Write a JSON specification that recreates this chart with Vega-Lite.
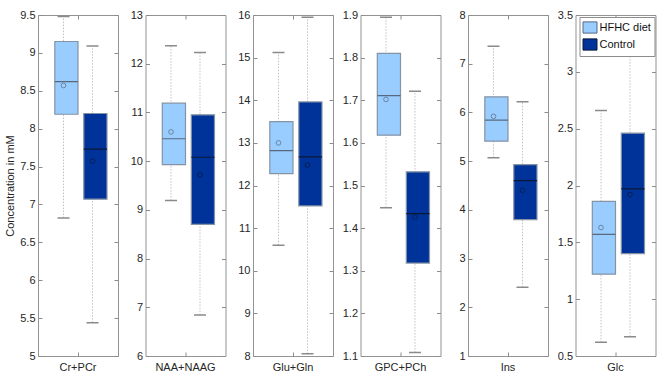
{
  "$schema": "https://vega.github.io/schema/vega-lite/v6.json",
  "padding": {"left": 4, "top": 8, "right": 5, "bottom": 5},
  "background": "white",
  "data": {"values": [
    {"metabolite": "Cr+PCr", "group": "HFHC diet", "low": 6.82, "q1": 8.19, "median": 8.62, "q3": 9.15, "high": 9.48, "mean": 8.57},
    {"metabolite": "Cr+PCr", "group": "Control", "low": 5.44, "q1": 7.07, "median": 7.73, "q3": 8.2, "high": 9.09, "mean": 7.57},
    {"metabolite": "NAA+NAAG", "group": "HFHC diet", "low": 9.19, "q1": 9.93, "median": 10.46, "q3": 11.19, "high": 12.37, "mean": 10.6},
    {"metabolite": "NAA+NAAG", "group": "Control", "low": 6.84, "q1": 8.7, "median": 10.08, "q3": 10.95, "high": 12.23, "mean": 9.72},
    {"metabolite": "Glu+Gln", "group": "HFHC diet", "low": 10.6, "q1": 12.28, "median": 12.82, "q3": 13.5, "high": 15.12, "mean": 13.0},
    {"metabolite": "Glu+Gln", "group": "Control", "low": 8.05, "q1": 11.52, "median": 12.67, "q3": 13.96, "high": 15.95, "mean": 12.48},
    {"metabolite": "GPC+PCh", "group": "HFHC diet", "low": 1.448, "q1": 1.618, "median": 1.711, "q3": 1.81, "high": 1.895, "mean": 1.702},
    {"metabolite": "GPC+PCh", "group": "Control", "low": 1.108, "q1": 1.318, "median": 1.434, "q3": 1.532, "high": 1.721, "mean": 1.426},
    {"metabolite": "Ins", "group": "HFHC diet", "low": 5.07, "q1": 5.41, "median": 5.84, "q3": 6.32, "high": 7.36, "mean": 5.92},
    {"metabolite": "Ins", "group": "Control", "low": 2.41, "q1": 3.8, "median": 4.6, "q3": 4.93, "high": 6.22, "mean": 4.4},
    {"metabolite": "Glc", "group": "HFHC diet", "low": 0.62, "q1": 1.22, "median": 1.57, "q3": 1.86, "high": 2.66, "mean": 1.63},
    {"metabolite": "Glc", "group": "Control", "low": 0.67, "q1": 1.4, "median": 1.97, "q3": 2.46, "high": 3.35, "mean": 1.92}
  ]},
  "spacing": 27.5,
  "bounds": "flush",
  "resolve": {
    "scale": {"x": "independent", "y": "independent", "xOffset": "independent", "fill": "independent", "color": "independent", "stroke": "independent"},
    "axis": {"x": "independent", "y": "independent"},
    "legend": {"fill": "independent", "color": "independent", "stroke": "independent"}
  },
  "config": {
    "font": "Liberation Sans",
    "view": {"stroke": "#939393", "strokeWidth": 1},
    "axis": {"domain": false, "grid": false, "tickColor": "#8c8c8c", "tickSize": -4, "tickWidth": 1, "labelFontSize": 11, "labelColor": "#262626", "titleFontSize": 11, "titleFontWeight": "normal", "titleColor": "#262626", "labelPadding": 7},
    "legend": {"labelFontSize": 11}
  },
  "hconcat": [
    {
      "width": 80, "height": 341,
      "transform": [{"filter": {"field": "metabolite", "equal": "Cr+PCr"}}],
      "encoding": {
        "x": {"field": "metabolite", "type": "nominal", "scale": {"paddingInner": 0, "paddingOuter": 0.19}, "axis": null},
        "xOffset": {"field": "group", "type": "nominal", "scale": {"domain": ["HFHC diet", "Control"], "paddingInner": 0, "paddingOuter": 0}}
      },
      "layer": [
        {"mark": {"type": "rule", "strokeDash": [1.5, 1.5], "color": "#c2c2c2", "strokeWidth": 1},
         "encoding": {
           "x": {"field": "metabolite", "type": "nominal", "scale": {"paddingInner": 0, "paddingOuter": 0.19}, "axis": {"orient": "bottom", "title": null, "labelAngle": 0, "labelPadding": 9}},
           "y": {"field": "low", "type": "quantitative", "scale": {"domain": [5, 9.5], "nice": false, "zero": false}, "axis": {"orient": "left", "values": [5, 5.5, 6, 6.5, 7, 7.5, 8, 8.5, 9, 9.5], "format": "~g", "title": "Concentration in mM"}},
           "y2": {"field": "high"}}},
        {"mark": {"type": "bar", "stroke": "#8593a5", "strokeWidth": 1.2, "width": {"band": 0.8}},
         "encoding": {
           "x": {"field": "metabolite", "type": "nominal", "scale": {"paddingInner": 0, "paddingOuter": 0.19}, "axis": {"orient": "top", "title": null, "labels": false}},
           "y": {"field": "q1", "type": "quantitative", "scale": {"domain": [5, 9.5], "nice": false, "zero": false}, "axis": {"orient": "right", "values": [5, 5.5, 6, 6.5, 7, 7.5, 8, 8.5, 9, 9.5], "labels": false, "title": null}},
           "y2": {"field": "q3"},
           "fill": {"field": "group", "type": "nominal", "scale": {"domain": ["HFHC diet", "Control"], "range": ["#99ccff", "#003399"]}, "legend": null}}},
        {"mark": {"type": "bar", "width": 12, "fillOpacity": 0, "stroke": "#8a8a8a", "strokeWidth": 1.5},
         "encoding": {"y": {"field": "low", "type": "quantitative", "scale": {"domain": [5, 9.5], "nice": false, "zero": false}, "axis": null}, "y2": {"field": "low"}}},
        {"mark": {"type": "bar", "width": 12, "fillOpacity": 0, "stroke": "#8a8a8a", "strokeWidth": 1.5},
         "encoding": {"y": {"field": "high", "type": "quantitative", "scale": {"domain": [5, 9.5], "nice": false, "zero": false}, "axis": null}, "y2": {"field": "high"}}},
        {"mark": {"type": "bar", "width": {"band": 0.8}, "fillOpacity": 0, "strokeWidth": 1.2},
         "encoding": {"y": {"field": "median", "type": "quantitative", "scale": {"domain": [5, 9.5], "nice": false, "zero": false}, "axis": null}, "y2": {"field": "median"},
           "stroke": {"field": "group", "type": "nominal", "scale": {"domain": ["HFHC diet", "Control"], "range": ["#58687e", "#0a1838"]}, "legend": null}}},
        {"mark": {"type": "point", "shape": "circle", "filled": false, "size": 22, "strokeWidth": 1},
         "encoding": {"y": {"field": "mean", "type": "quantitative", "scale": {"domain": [5, 9.5], "nice": false, "zero": false}, "axis": null},
           "color": {"field": "group", "type": "nominal", "scale": {"domain": ["HFHC diet", "Control"], "range": ["#58687e", "#0a1838"]}, "legend": null}}}
      ],
      "resolve": {"axis": {"x": "independent", "y": "independent"}}
    },
    {
      "width": 80, "height": 341,
      "transform": [{"filter": {"field": "metabolite", "equal": "NAA+NAAG"}}],
      "encoding": {
        "x": {"field": "metabolite", "type": "nominal", "scale": {"paddingInner": 0, "paddingOuter": 0.19}, "axis": null},
        "xOffset": {"field": "group", "type": "nominal", "scale": {"domain": ["HFHC diet", "Control"], "paddingInner": 0, "paddingOuter": 0}}
      },
      "layer": [
        {"mark": {"type": "rule", "strokeDash": [1.5, 1.5], "color": "#c2c2c2", "strokeWidth": 1},
         "encoding": {
           "x": {"field": "metabolite", "type": "nominal", "scale": {"paddingInner": 0, "paddingOuter": 0.19}, "axis": {"orient": "bottom", "title": null, "labelAngle": 0, "labelPadding": 9}},
           "y": {"field": "low", "type": "quantitative", "scale": {"domain": [6, 13], "nice": false, "zero": false}, "axis": {"orient": "left", "values": [6, 7, 8, 9, 10, 11, 12, 13], "format": "~g", "title": null}},
           "y2": {"field": "high"}}},
        {"mark": {"type": "bar", "stroke": "#8593a5", "strokeWidth": 1.2, "width": {"band": 0.8}},
         "encoding": {
           "x": {"field": "metabolite", "type": "nominal", "scale": {"paddingInner": 0, "paddingOuter": 0.19}, "axis": {"orient": "top", "title": null, "labels": false}},
           "y": {"field": "q1", "type": "quantitative", "scale": {"domain": [6, 13], "nice": false, "zero": false}, "axis": {"orient": "right", "values": [6, 7, 8, 9, 10, 11, 12, 13], "labels": false, "title": null}},
           "y2": {"field": "q3"},
           "fill": {"field": "group", "type": "nominal", "scale": {"domain": ["HFHC diet", "Control"], "range": ["#99ccff", "#003399"]}, "legend": null}}},
        {"mark": {"type": "bar", "width": 12, "fillOpacity": 0, "stroke": "#8a8a8a", "strokeWidth": 1.5},
         "encoding": {"y": {"field": "low", "type": "quantitative", "scale": {"domain": [6, 13], "nice": false, "zero": false}, "axis": null}, "y2": {"field": "low"}}},
        {"mark": {"type": "bar", "width": 12, "fillOpacity": 0, "stroke": "#8a8a8a", "strokeWidth": 1.5},
         "encoding": {"y": {"field": "high", "type": "quantitative", "scale": {"domain": [6, 13], "nice": false, "zero": false}, "axis": null}, "y2": {"field": "high"}}},
        {"mark": {"type": "bar", "width": {"band": 0.8}, "fillOpacity": 0, "strokeWidth": 1.2},
         "encoding": {"y": {"field": "median", "type": "quantitative", "scale": {"domain": [6, 13], "nice": false, "zero": false}, "axis": null}, "y2": {"field": "median"},
           "stroke": {"field": "group", "type": "nominal", "scale": {"domain": ["HFHC diet", "Control"], "range": ["#58687e", "#0a1838"]}, "legend": null}}},
        {"mark": {"type": "point", "shape": "circle", "filled": false, "size": 22, "strokeWidth": 1},
         "encoding": {"y": {"field": "mean", "type": "quantitative", "scale": {"domain": [6, 13], "nice": false, "zero": false}, "axis": null},
           "color": {"field": "group", "type": "nominal", "scale": {"domain": ["HFHC diet", "Control"], "range": ["#58687e", "#0a1838"]}, "legend": null}}}
      ],
      "resolve": {"axis": {"x": "independent", "y": "independent"}}
    },
    {
      "width": 80, "height": 341,
      "transform": [{"filter": {"field": "metabolite", "equal": "Glu+Gln"}}],
      "encoding": {
        "x": {"field": "metabolite", "type": "nominal", "scale": {"paddingInner": 0, "paddingOuter": 0.19}, "axis": null},
        "xOffset": {"field": "group", "type": "nominal", "scale": {"domain": ["HFHC diet", "Control"], "paddingInner": 0, "paddingOuter": 0}}
      },
      "layer": [
        {"mark": {"type": "rule", "strokeDash": [1.5, 1.5], "color": "#c2c2c2", "strokeWidth": 1},
         "encoding": {
           "x": {"field": "metabolite", "type": "nominal", "scale": {"paddingInner": 0, "paddingOuter": 0.19}, "axis": {"orient": "bottom", "title": null, "labelAngle": 0, "labelPadding": 9}},
           "y": {"field": "low", "type": "quantitative", "scale": {"domain": [8, 16], "nice": false, "zero": false}, "axis": {"orient": "left", "values": [8, 9, 10, 11, 12, 13, 14, 15, 16], "format": "~g", "title": null}},
           "y2": {"field": "high"}}},
        {"mark": {"type": "bar", "stroke": "#8593a5", "strokeWidth": 1.2, "width": {"band": 0.8}},
         "encoding": {
           "x": {"field": "metabolite", "type": "nominal", "scale": {"paddingInner": 0, "paddingOuter": 0.19}, "axis": {"orient": "top", "title": null, "labels": false}},
           "y": {"field": "q1", "type": "quantitative", "scale": {"domain": [8, 16], "nice": false, "zero": false}, "axis": {"orient": "right", "values": [8, 9, 10, 11, 12, 13, 14, 15, 16], "labels": false, "title": null}},
           "y2": {"field": "q3"},
           "fill": {"field": "group", "type": "nominal", "scale": {"domain": ["HFHC diet", "Control"], "range": ["#99ccff", "#003399"]}, "legend": null}}},
        {"mark": {"type": "bar", "width": 12, "fillOpacity": 0, "stroke": "#8a8a8a", "strokeWidth": 1.5},
         "encoding": {"y": {"field": "low", "type": "quantitative", "scale": {"domain": [8, 16], "nice": false, "zero": false}, "axis": null}, "y2": {"field": "low"}}},
        {"mark": {"type": "bar", "width": 12, "fillOpacity": 0, "stroke": "#8a8a8a", "strokeWidth": 1.5},
         "encoding": {"y": {"field": "high", "type": "quantitative", "scale": {"domain": [8, 16], "nice": false, "zero": false}, "axis": null}, "y2": {"field": "high"}}},
        {"mark": {"type": "bar", "width": {"band": 0.8}, "fillOpacity": 0, "strokeWidth": 1.2},
         "encoding": {"y": {"field": "median", "type": "quantitative", "scale": {"domain": [8, 16], "nice": false, "zero": false}, "axis": null}, "y2": {"field": "median"},
           "stroke": {"field": "group", "type": "nominal", "scale": {"domain": ["HFHC diet", "Control"], "range": ["#58687e", "#0a1838"]}, "legend": null}}},
        {"mark": {"type": "point", "shape": "circle", "filled": false, "size": 22, "strokeWidth": 1},
         "encoding": {"y": {"field": "mean", "type": "quantitative", "scale": {"domain": [8, 16], "nice": false, "zero": false}, "axis": null},
           "color": {"field": "group", "type": "nominal", "scale": {"domain": ["HFHC diet", "Control"], "range": ["#58687e", "#0a1838"]}, "legend": null}}}
      ],
      "resolve": {"axis": {"x": "independent", "y": "independent"}}
    },
    {
      "width": 80, "height": 341,
      "transform": [{"filter": {"field": "metabolite", "equal": "GPC+PCh"}}],
      "encoding": {
        "x": {"field": "metabolite", "type": "nominal", "scale": {"paddingInner": 0, "paddingOuter": 0.19}, "axis": null},
        "xOffset": {"field": "group", "type": "nominal", "scale": {"domain": ["HFHC diet", "Control"], "paddingInner": 0, "paddingOuter": 0}}
      },
      "layer": [
        {"mark": {"type": "rule", "strokeDash": [1.5, 1.5], "color": "#c2c2c2", "strokeWidth": 1},
         "encoding": {
           "x": {"field": "metabolite", "type": "nominal", "scale": {"paddingInner": 0, "paddingOuter": 0.19}, "axis": {"orient": "bottom", "title": null, "labelAngle": 0, "labelPadding": 9}},
           "y": {"field": "low", "type": "quantitative", "scale": {"domain": [1.1, 1.9], "nice": false, "zero": false}, "axis": {"orient": "left", "values": [1.1, 1.2, 1.3, 1.4, 1.5, 1.6, 1.7, 1.8, 1.9], "format": "~g", "title": null}},
           "y2": {"field": "high"}}},
        {"mark": {"type": "bar", "stroke": "#8593a5", "strokeWidth": 1.2, "width": {"band": 0.8}},
         "encoding": {
           "x": {"field": "metabolite", "type": "nominal", "scale": {"paddingInner": 0, "paddingOuter": 0.19}, "axis": {"orient": "top", "title": null, "labels": false}},
           "y": {"field": "q1", "type": "quantitative", "scale": {"domain": [1.1, 1.9], "nice": false, "zero": false}, "axis": {"orient": "right", "values": [1.1, 1.2, 1.3, 1.4, 1.5, 1.6, 1.7, 1.8, 1.9], "labels": false, "title": null}},
           "y2": {"field": "q3"},
           "fill": {"field": "group", "type": "nominal", "scale": {"domain": ["HFHC diet", "Control"], "range": ["#99ccff", "#003399"]}, "legend": null}}},
        {"mark": {"type": "bar", "width": 12, "fillOpacity": 0, "stroke": "#8a8a8a", "strokeWidth": 1.5},
         "encoding": {"y": {"field": "low", "type": "quantitative", "scale": {"domain": [1.1, 1.9], "nice": false, "zero": false}, "axis": null}, "y2": {"field": "low"}}},
        {"mark": {"type": "bar", "width": 12, "fillOpacity": 0, "stroke": "#8a8a8a", "strokeWidth": 1.5},
         "encoding": {"y": {"field": "high", "type": "quantitative", "scale": {"domain": [1.1, 1.9], "nice": false, "zero": false}, "axis": null}, "y2": {"field": "high"}}},
        {"mark": {"type": "bar", "width": {"band": 0.8}, "fillOpacity": 0, "strokeWidth": 1.2},
         "encoding": {"y": {"field": "median", "type": "quantitative", "scale": {"domain": [1.1, 1.9], "nice": false, "zero": false}, "axis": null}, "y2": {"field": "median"},
           "stroke": {"field": "group", "type": "nominal", "scale": {"domain": ["HFHC diet", "Control"], "range": ["#58687e", "#0a1838"]}, "legend": null}}},
        {"mark": {"type": "point", "shape": "circle", "filled": false, "size": 22, "strokeWidth": 1},
         "encoding": {"y": {"field": "mean", "type": "quantitative", "scale": {"domain": [1.1, 1.9], "nice": false, "zero": false}, "axis": null},
           "color": {"field": "group", "type": "nominal", "scale": {"domain": ["HFHC diet", "Control"], "range": ["#58687e", "#0a1838"]}, "legend": null}}}
      ],
      "resolve": {"axis": {"x": "independent", "y": "independent"}}
    },
    {
      "width": 80, "height": 341,
      "transform": [{"filter": {"field": "metabolite", "equal": "Ins"}}],
      "encoding": {
        "x": {"field": "metabolite", "type": "nominal", "scale": {"paddingInner": 0, "paddingOuter": 0.19}, "axis": null},
        "xOffset": {"field": "group", "type": "nominal", "scale": {"domain": ["HFHC diet", "Control"], "paddingInner": 0, "paddingOuter": 0}}
      },
      "layer": [
        {"mark": {"type": "rule", "strokeDash": [1.5, 1.5], "color": "#c2c2c2", "strokeWidth": 1},
         "encoding": {
           "x": {"field": "metabolite", "type": "nominal", "scale": {"paddingInner": 0, "paddingOuter": 0.19}, "axis": {"orient": "bottom", "title": null, "labelAngle": 0, "labelPadding": 9}},
           "y": {"field": "low", "type": "quantitative", "scale": {"domain": [1, 8], "nice": false, "zero": false}, "axis": {"orient": "left", "values": [1, 2, 3, 4, 5, 6, 7, 8], "format": "~g", "title": null}},
           "y2": {"field": "high"}}},
        {"mark": {"type": "bar", "stroke": "#8593a5", "strokeWidth": 1.2, "width": {"band": 0.8}},
         "encoding": {
           "x": {"field": "metabolite", "type": "nominal", "scale": {"paddingInner": 0, "paddingOuter": 0.19}, "axis": {"orient": "top", "title": null, "labels": false}},
           "y": {"field": "q1", "type": "quantitative", "scale": {"domain": [1, 8], "nice": false, "zero": false}, "axis": {"orient": "right", "values": [1, 2, 3, 4, 5, 6, 7, 8], "labels": false, "title": null}},
           "y2": {"field": "q3"},
           "fill": {"field": "group", "type": "nominal", "scale": {"domain": ["HFHC diet", "Control"], "range": ["#99ccff", "#003399"]}, "legend": null}}},
        {"mark": {"type": "bar", "width": 12, "fillOpacity": 0, "stroke": "#8a8a8a", "strokeWidth": 1.5},
         "encoding": {"y": {"field": "low", "type": "quantitative", "scale": {"domain": [1, 8], "nice": false, "zero": false}, "axis": null}, "y2": {"field": "low"}}},
        {"mark": {"type": "bar", "width": 12, "fillOpacity": 0, "stroke": "#8a8a8a", "strokeWidth": 1.5},
         "encoding": {"y": {"field": "high", "type": "quantitative", "scale": {"domain": [1, 8], "nice": false, "zero": false}, "axis": null}, "y2": {"field": "high"}}},
        {"mark": {"type": "bar", "width": {"band": 0.8}, "fillOpacity": 0, "strokeWidth": 1.2},
         "encoding": {"y": {"field": "median", "type": "quantitative", "scale": {"domain": [1, 8], "nice": false, "zero": false}, "axis": null}, "y2": {"field": "median"},
           "stroke": {"field": "group", "type": "nominal", "scale": {"domain": ["HFHC diet", "Control"], "range": ["#58687e", "#0a1838"]}, "legend": null}}},
        {"mark": {"type": "point", "shape": "circle", "filled": false, "size": 22, "strokeWidth": 1},
         "encoding": {"y": {"field": "mean", "type": "quantitative", "scale": {"domain": [1, 8], "nice": false, "zero": false}, "axis": null},
           "color": {"field": "group", "type": "nominal", "scale": {"domain": ["HFHC diet", "Control"], "range": ["#58687e", "#0a1838"]}, "legend": null}}}
      ],
      "resolve": {"axis": {"x": "independent", "y": "independent"}}
    },
    {
      "width": 80, "height": 341,
      "transform": [{"filter": {"field": "metabolite", "equal": "Glc"}}],
      "encoding": {
        "x": {"field": "metabolite", "type": "nominal", "scale": {"paddingInner": 0, "paddingOuter": 0.19}, "axis": null},
        "xOffset": {"field": "group", "type": "nominal", "scale": {"domain": ["HFHC diet", "Control"], "paddingInner": 0, "paddingOuter": 0}}
      },
      "layer": [
        {"mark": {"type": "rule", "strokeDash": [1.5, 1.5], "color": "#c2c2c2", "strokeWidth": 1},
         "encoding": {
           "x": {"field": "metabolite", "type": "nominal", "scale": {"paddingInner": 0, "paddingOuter": 0.19}, "axis": {"orient": "bottom", "title": null, "labelAngle": 0, "labelPadding": 9}},
           "y": {"field": "low", "type": "quantitative", "scale": {"domain": [0.5, 3.5], "nice": false, "zero": false}, "axis": {"orient": "left", "values": [0.5, 1, 1.5, 2, 2.5, 3, 3.5], "format": "~g", "title": null}},
           "y2": {"field": "high"}}},
        {"mark": {"type": "bar", "width": 12, "fillOpacity": 0, "stroke": "#8a8a8a", "strokeWidth": 1.5},
         "encoding": {"y": {"field": "low", "type": "quantitative", "scale": {"domain": [0.5, 3.5], "nice": false, "zero": false}, "axis": null}, "y2": {"field": "low"}}},
        {"mark": {"type": "bar", "width": 12, "fillOpacity": 0, "stroke": "#8a8a8a", "strokeWidth": 1.5},
         "encoding": {"y": {"field": "high", "type": "quantitative", "scale": {"domain": [0.5, 3.5], "nice": false, "zero": false}, "axis": null}, "y2": {"field": "high"}}},
        {"mark": {"type": "bar", "stroke": "#8593a5", "strokeWidth": 1.2, "width": {"band": 0.8}},
         "encoding": {
           "x": {"field": "metabolite", "type": "nominal", "scale": {"paddingInner": 0, "paddingOuter": 0.19}, "axis": {"orient": "top", "title": null, "labels": false}},
           "y": {"field": "q1", "type": "quantitative", "scale": {"domain": [0.5, 3.5], "nice": false, "zero": false}, "axis": {"orient": "right", "values": [0.5, 1, 1.5, 2, 2.5, 3, 3.5], "labels": false, "title": null}},
           "y2": {"field": "q3"},
           "fill": {"field": "group", "type": "nominal", "scale": {"domain": ["HFHC diet", "Control"], "range": ["#99ccff", "#003399"]},
             "legend": {"orient": "none", "legendX": 4, "legendY": 2, "title": null, "fillColor": "white", "strokeColor": "#8c8c8c", "padding": 3, "rowPadding": 0, "symbolType": "M-1,-0.8L1,-0.8L1,0.8L-1,0.8Z", "symbolSize": 196, "symbolStrokeColor": "#6f6f6f", "symbolStrokeWidth": 1, "labelFontSize": 11, "labelOffset": 2, "labelColor": "#111111"}}}},
        {"mark": {"type": "bar", "width": {"band": 0.8}, "fillOpacity": 0, "strokeWidth": 1.2},
         "encoding": {"y": {"field": "median", "type": "quantitative", "scale": {"domain": [0.5, 3.5], "nice": false, "zero": false}, "axis": null}, "y2": {"field": "median"},
           "stroke": {"field": "group", "type": "nominal", "scale": {"domain": ["HFHC diet", "Control"], "range": ["#58687e", "#0a1838"]}, "legend": null}}},
        {"mark": {"type": "point", "shape": "circle", "filled": false, "size": 22, "strokeWidth": 1},
         "encoding": {"y": {"field": "mean", "type": "quantitative", "scale": {"domain": [0.5, 3.5], "nice": false, "zero": false}, "axis": null},
           "color": {"field": "group", "type": "nominal", "scale": {"domain": ["HFHC diet", "Control"], "range": ["#58687e", "#0a1838"]}, "legend": null}}}
      ],
      "resolve": {"axis": {"x": "independent", "y": "independent"}}
    }
  ]
}
